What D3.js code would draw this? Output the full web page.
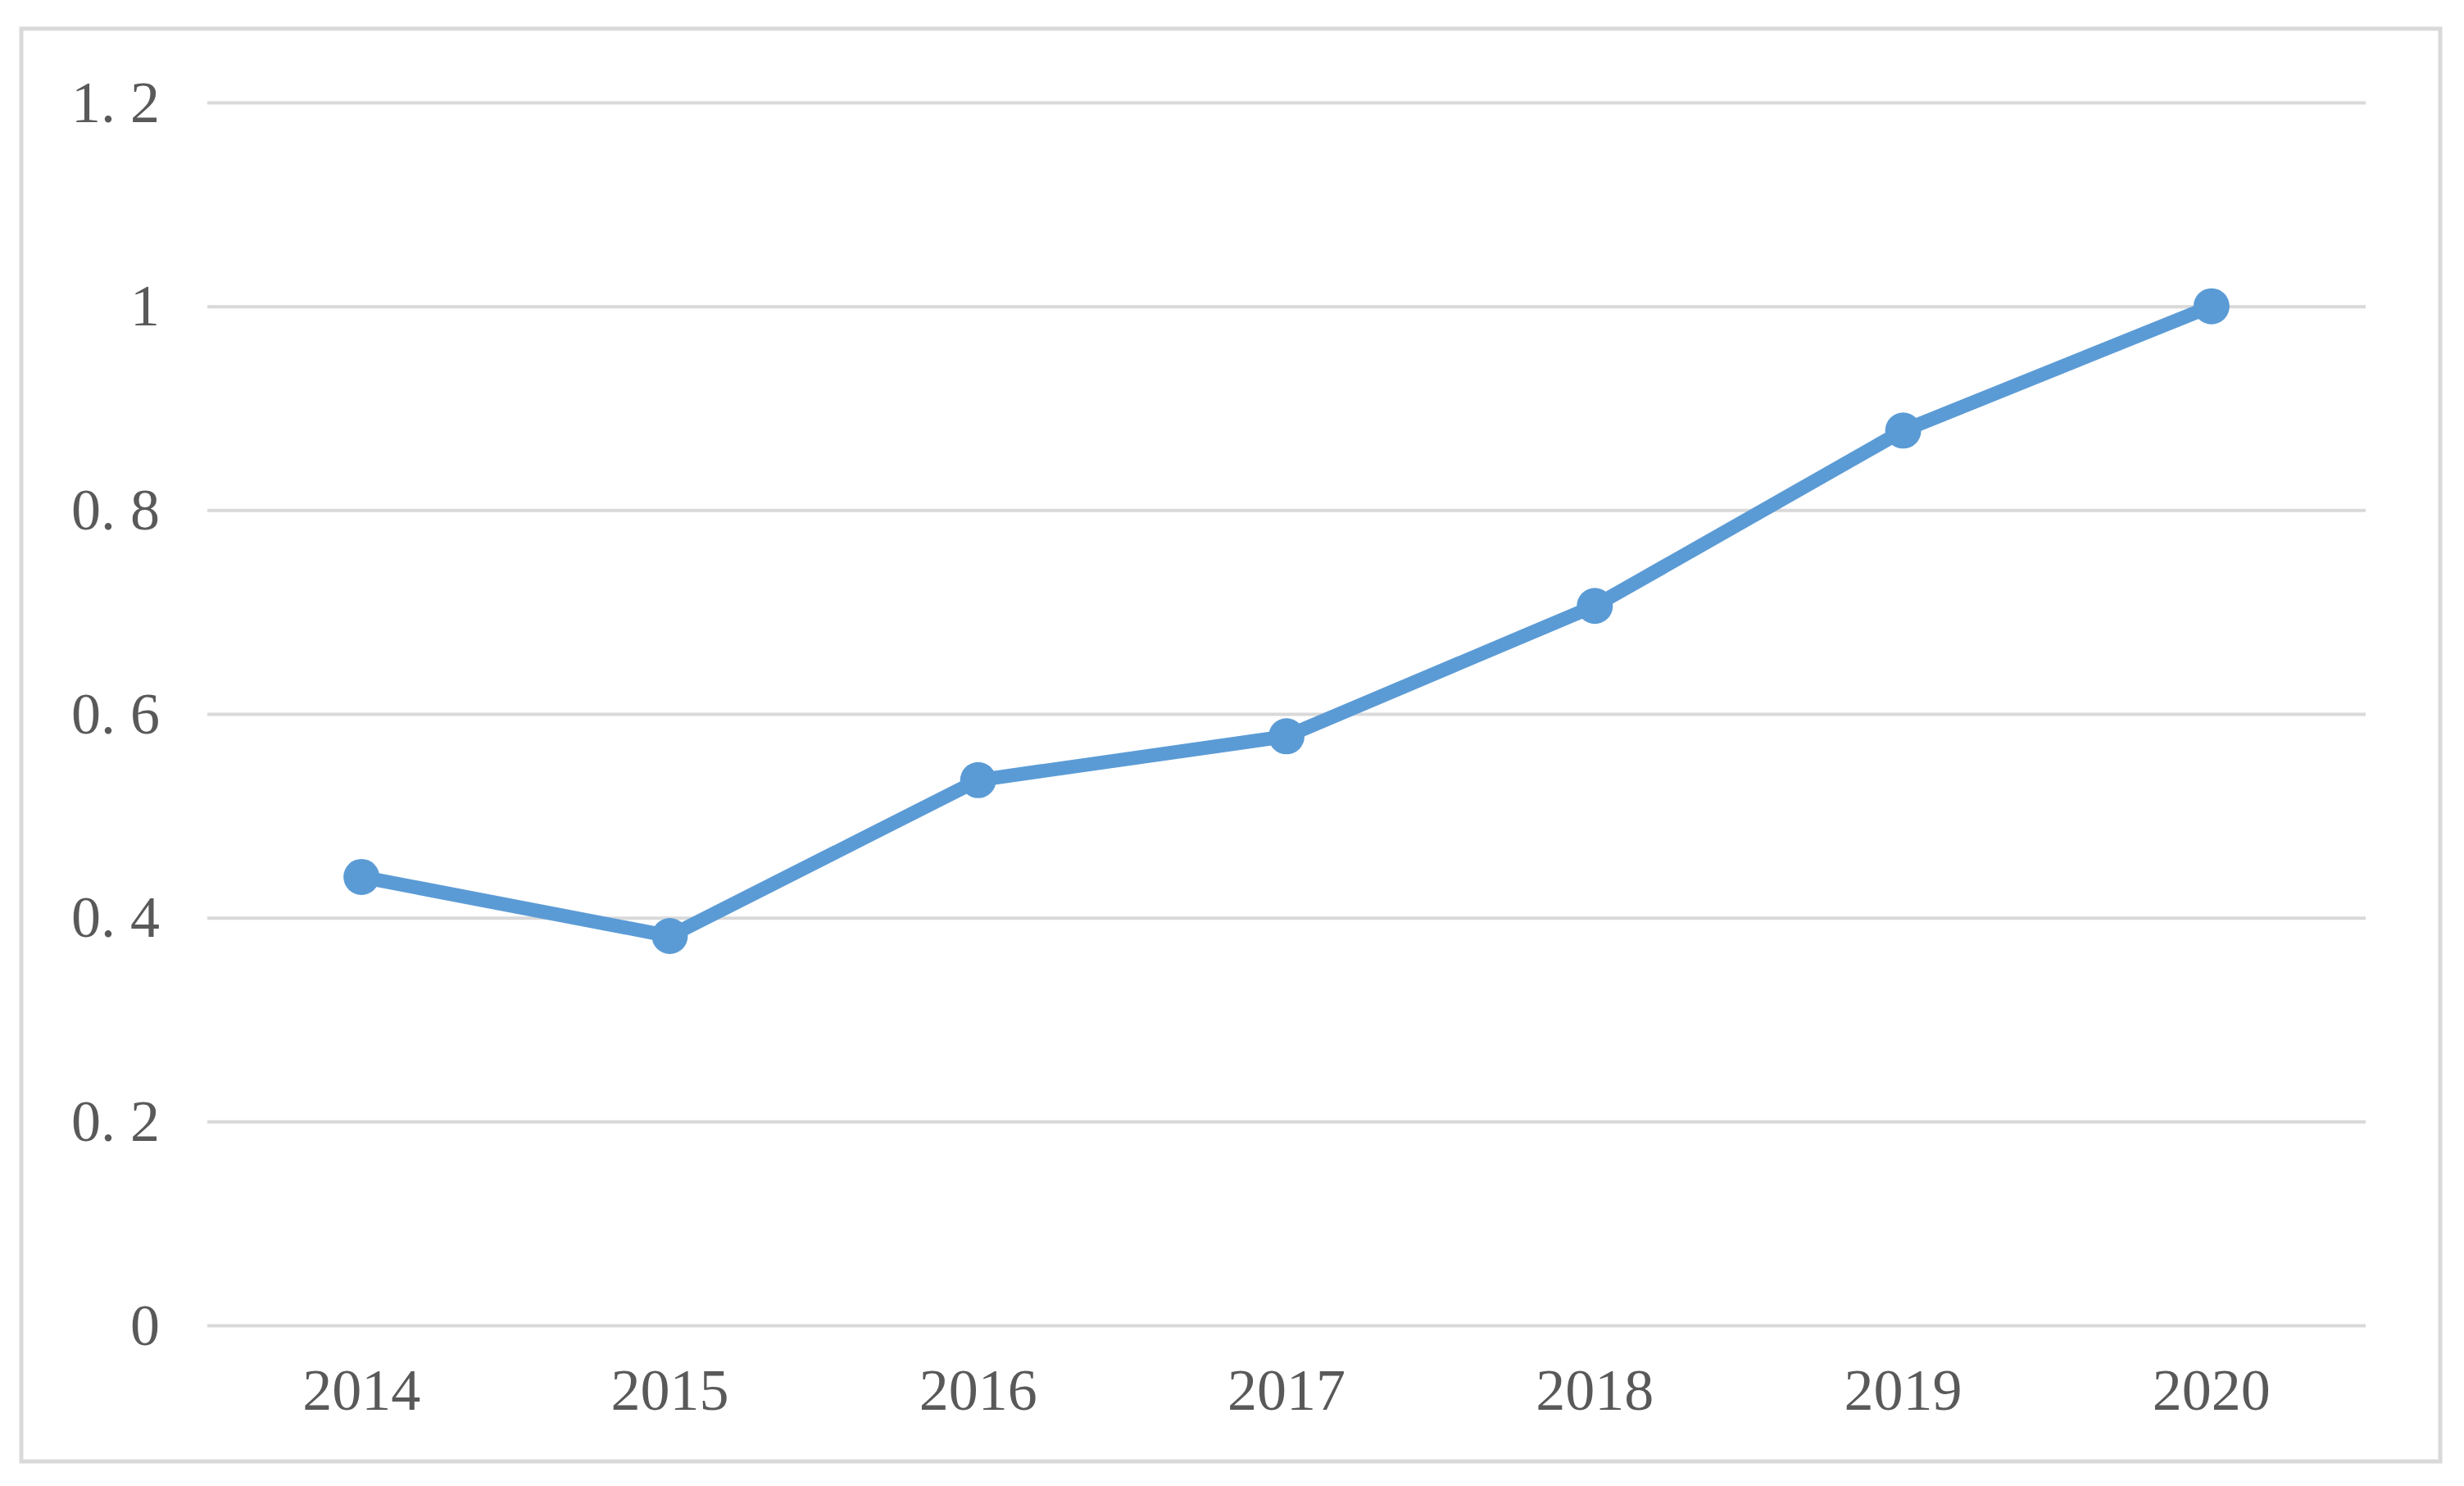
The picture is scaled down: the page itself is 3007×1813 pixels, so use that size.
<!DOCTYPE html>
<html>
<head>
<meta charset="utf-8">
<script src="https://cdn.jsdelivr.net/npm/d3@7/dist/d3.min.js"></script>
<style>
  body { margin: 0; background: #fff; }
  text { font-family: "Liberation Serif", "DejaVu Serif", serif; fill: #595959; }
</style>
</head>
<body>
<div id="container"></div>
<script>
var width = 3007;
var height = 1813;
var margin = {left: 253, right: 120, top: 125, bottom: 196};

// data
var years = ['2014', '2015', '2016', '2017', '2018', '2019', '2020'];
var values = [0.44, 0.382, 0.535, 0.578, 0.706, 0.878, 1.0];
var yTicks = [0, 0.2, 0.4, 0.6, 0.8, 1, 1.2];

var svg = d3.select('#container').append('svg')
    .attr('width', width).attr('height', height);

// outer frame
svg.append('rect')
    .attr('x', 26).attr('y', 35)
    .attr('width', 2952).attr('height', 1748)
    .attr('fill', 'none')
    .attr('stroke', '#d9d9d9')
    .attr('stroke-width', 5);

var xScale = d3.scaleBand().domain(years).range([margin.left, width - margin.right]);
var yScale = d3.scaleLinear().domain([0, 1.2]).range([height - margin.bottom, margin.top]);

function fmt(d) {
    if (d === 0 || d === 1) return String(d);
    return d.toFixed(1).replace('.', '. ');
}

// gridlines + y labels
var yAxis = d3.axisLeft(yScale)
    .tickValues(yTicks)
    .tickSize(-(width - margin.left - margin.right))
    .tickPadding(58)
    .tickFormat(fmt);

var gy = svg.append('g')
    .attr('transform', 'translate(' + margin.left + ',0)')
    .call(yAxis);
gy.select('.domain').remove();
gy.selectAll('line').attr('stroke', '#d9d9d9').attr('stroke-width', 4);
gy.selectAll('text')
    .attr('font-size', 72)
    .attr('fill', '#5f5f5f');

// x labels
var xAxis = d3.axisBottom(xScale).tickSize(0).tickPadding(52);
var gx = svg.append('g')
    .attr('transform', 'translate(0,' + (height - margin.bottom) + ')')
    .call(xAxis);
gx.select('.domain').remove();
gx.selectAll('text')
    .attr('font-size', 72)
    .attr('fill', '#5f5f5f');

var data = years.map(function(y, i) { return {year: y, value: values[i]}; });

var line = d3.line()
    .x(function(d) { return xScale(d.year) + xScale.bandwidth() / 2; })
    .y(function(d) { return yScale(d.value); });

svg.append('path')
    .datum(data)
    .attr('d', line)
    .attr('fill', 'none')
    .attr('stroke', '#5b9bd5')
    .attr('stroke-width', 17)
    .attr('stroke-linejoin', 'round');

svg.selectAll('.dot')
    .data(data)
    .enter().append('circle')
    .attr('class', 'dot')
    .attr('cx', function(d) { return xScale(d.year) + xScale.bandwidth() / 2; })
    .attr('cy', function(d) { return yScale(d.value); })
    .attr('r', 22)
    .attr('fill', '#5b9bd5');
</script>
</body>
</html>
